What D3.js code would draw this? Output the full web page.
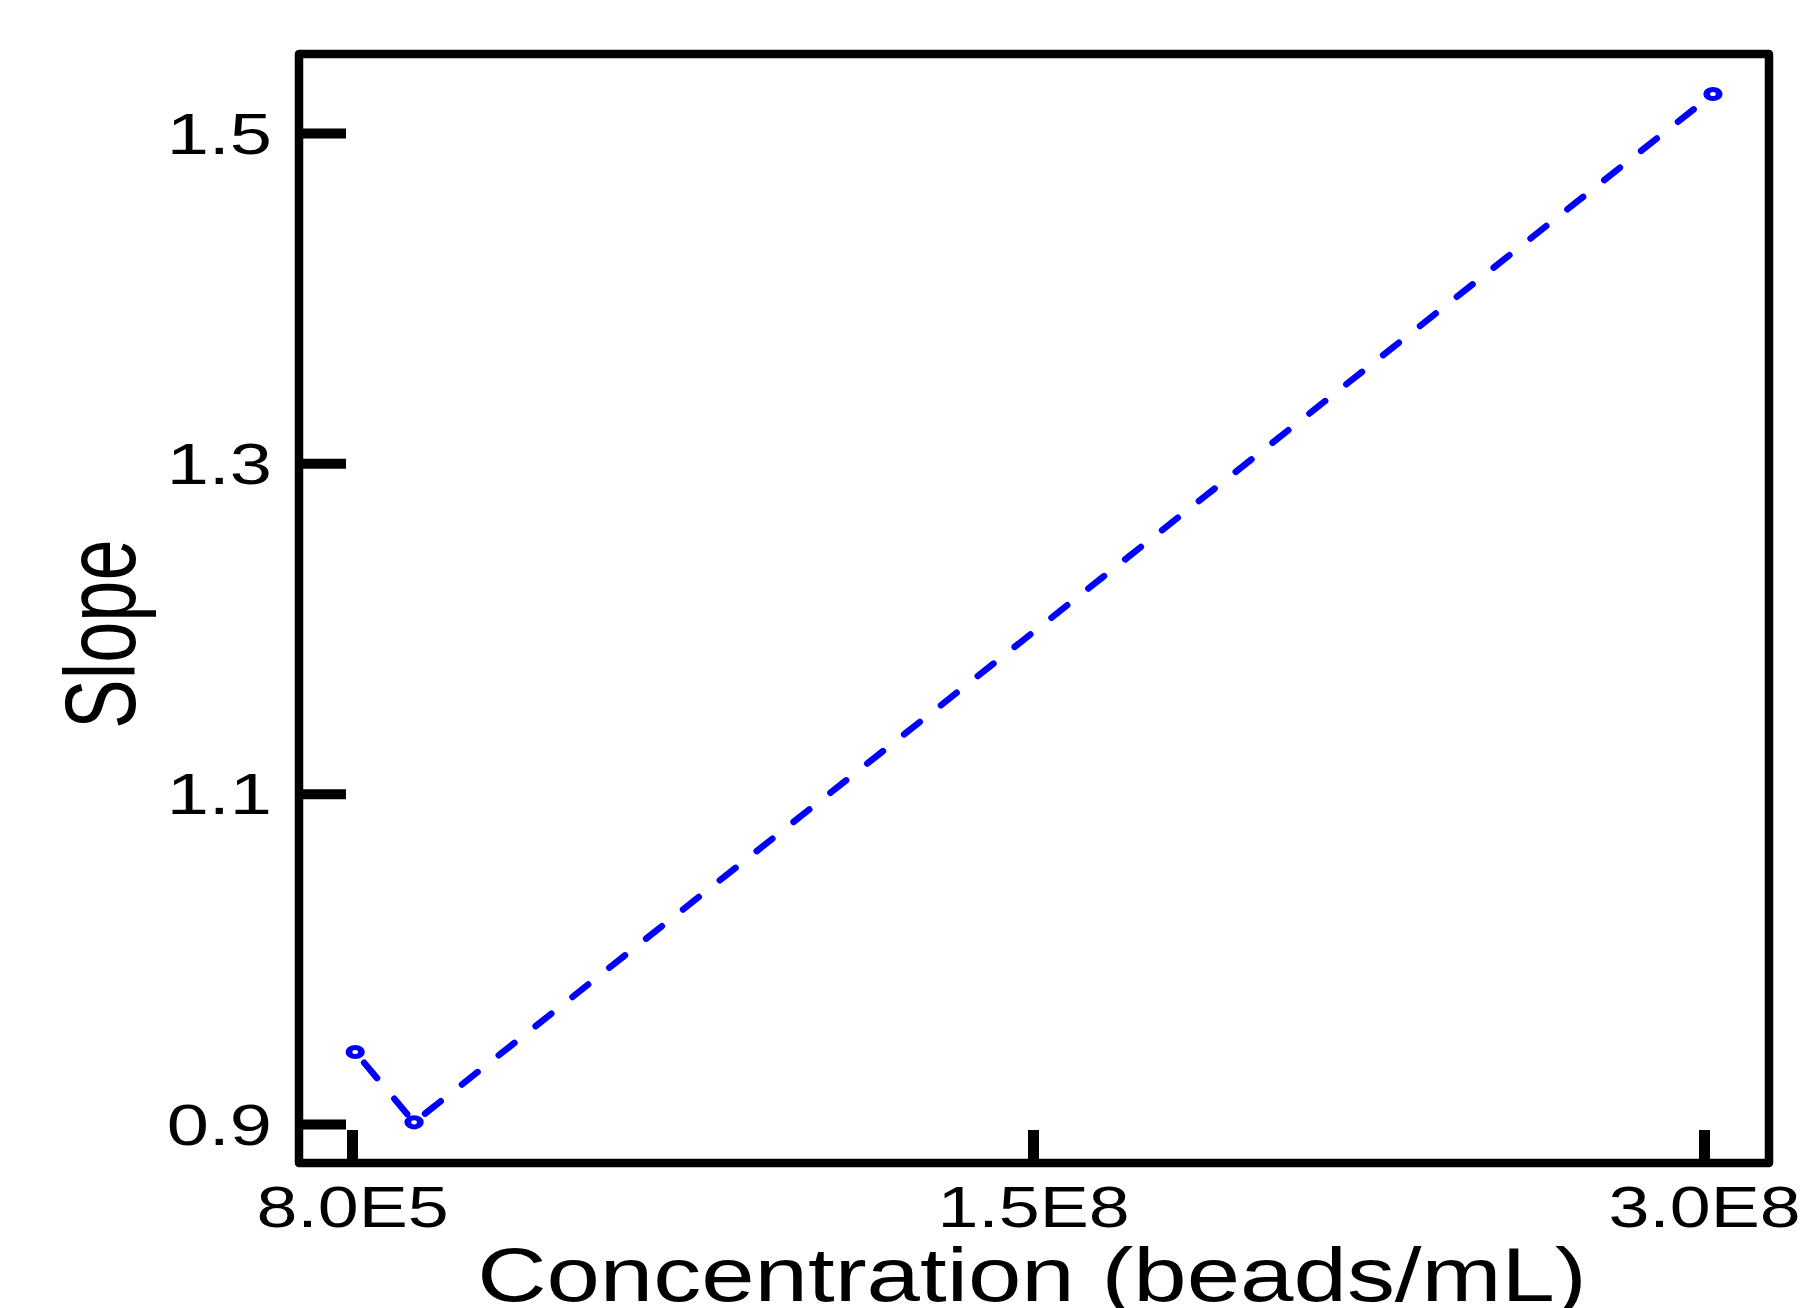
<!DOCTYPE html>
<html>
<head>
<meta charset="utf-8">
<script src="https://cdn.jsdelivr.net/npm/d3@7"></script>
<style>
  body { margin: 0; background: #fff; }
  text { font-family: "Liberation Sans", Arial, sans-serif; fill: #000; }
</style>
</head>
<body>
<svg id="slope-graph" width="1813" height="1308"></svg>
<script>
// data
var concentration = [1.5e6, 1.44e7, 3.02e8];
var slope = [0.9436, 0.901, 1.5236];

var xTickValues = [8.0e5, 1.5e8, 3.0e8];
var xTickLabels = ["8.0E5", "1.5E8", "3.0E8"];
var yTickValues = [0.9, 1.1, 1.3, 1.5];
var yTickLabels = ["0.9", "1.1", "1.3", "1.5"];

var svg = d3.select("#slope-graph"),
    margin = {top: 54, right: 44, bottom: 145, left: 299},
    width = +svg.attr("width") - margin.left - margin.right,
    height = +svg.attr("height") - margin.top - margin.bottom,
    g = svg.append("g").attr("transform", "translate(" + margin.left + "," + margin.top + ")");

// the picture is stretched sideways, text too
var stretch = 1.33;

var x = d3.scaleLinear()
    .domain(xTickValues)
    .range([53, 734, 1405]);

var y = d3.scaleLinear()
    .domain([0.9, 1.5])
    .range([1070, 79]);

var xAxis = d3.axisBottom(x)
    .tickValues(xTickValues)
    .tickFormat(function(d, i) { return xTickLabels[i]; })
    .tickSizeInner(-33)
    .tickSizeOuter(0);

var yAxis = d3.axisLeft(y)
    .tickValues(yTickValues)
    .tickFormat(function(d, i) { return yTickLabels[i]; })
    .tickSizeInner(-47)
    .tickSizeOuter(0);

g.append("g")
    .attr("transform", "translate(0," + height + ")")
    .call(customXAxis);

g.append("g")
    .call(customYAxis);

// frame
g.append("rect")
    .attr("x", 0)
    .attr("y", 0)
    .attr("width", width)
    .attr("height", height)
    .attr("fill", "none")
    .attr("stroke", "#000")
    .attr("stroke-width", 8.5)
    .attr("stroke-linejoin", "round");

var points = concentration.map(function(c, i) { return {c: c, s: slope[i]}; });

var line = d3.line()
    .x(function(d) { return x(d.c); })
    .y(function(d) { return y(d.s); });

// each segment restarts its dashes just past the marker
g.selectAll(".seg")
    .data(d3.pairs(points))
  .enter().append("path")
    .attr("class", "seg")
    .attr("d", line)
    .attr("fill", "none")
    .attr("stroke", "#0000ff")
    .attr("stroke-width", 6.5)
    .attr("stroke-linecap", "round")
    .attr("stroke-dasharray", "20,27")
    .attr("stroke-dashoffset", 33);

g.selectAll(".pt")
    .data(points)
  .enter().append("circle")
    .attr("class", "pt")
    .attr("r", 4.6)
    .attr("transform", function(d) { return "translate(" + x(d.c) + "," + y(d.s) + ") scale(1.36,1)"; })
    .attr("fill", "#fff")
    .attr("stroke", "#0000ff")
    .attr("stroke-width", 5);

svg.append("text")
    .attr("transform", "translate(135,634) scale(1.36,1) rotate(-90)")
    .attr("text-anchor", "middle")
    .attr("font-size", 74)
    .text("Slope");

svg.append("text")
    .attr("transform", "translate(1032,1301) scale(1.28,1)")
    .attr("text-anchor", "middle")
    .attr("font-size", 75)
    .text("Concentration (beads/mL)");

function customXAxis(g) {
  g.call(xAxis);
  g.select(".domain").remove();
  g.selectAll(".tick line").attr("stroke", "#000").attr("stroke-width", 11);
  g.selectAll(".tick text")
      .attr("font-size", 57)
      .attr("font-family", null)
      .attr("y", 64)
      .attr("dy", 0)
      .attr("transform", "scale(1.29,1)");
}

function customYAxis(g) {
  g.call(yAxis);
  g.select(".domain").remove();
  g.selectAll(".tick line").attr("stroke", "#000").attr("stroke-width", 10);
  g.selectAll(".tick text")
      .attr("font-size", 57)
      .attr("font-family", null)
      .attr("x", -27 / stretch)
      .attr("dy", 20)
      .attr("transform", "scale(" + stretch + ",1)");
}
</script>
</body>
</html>
